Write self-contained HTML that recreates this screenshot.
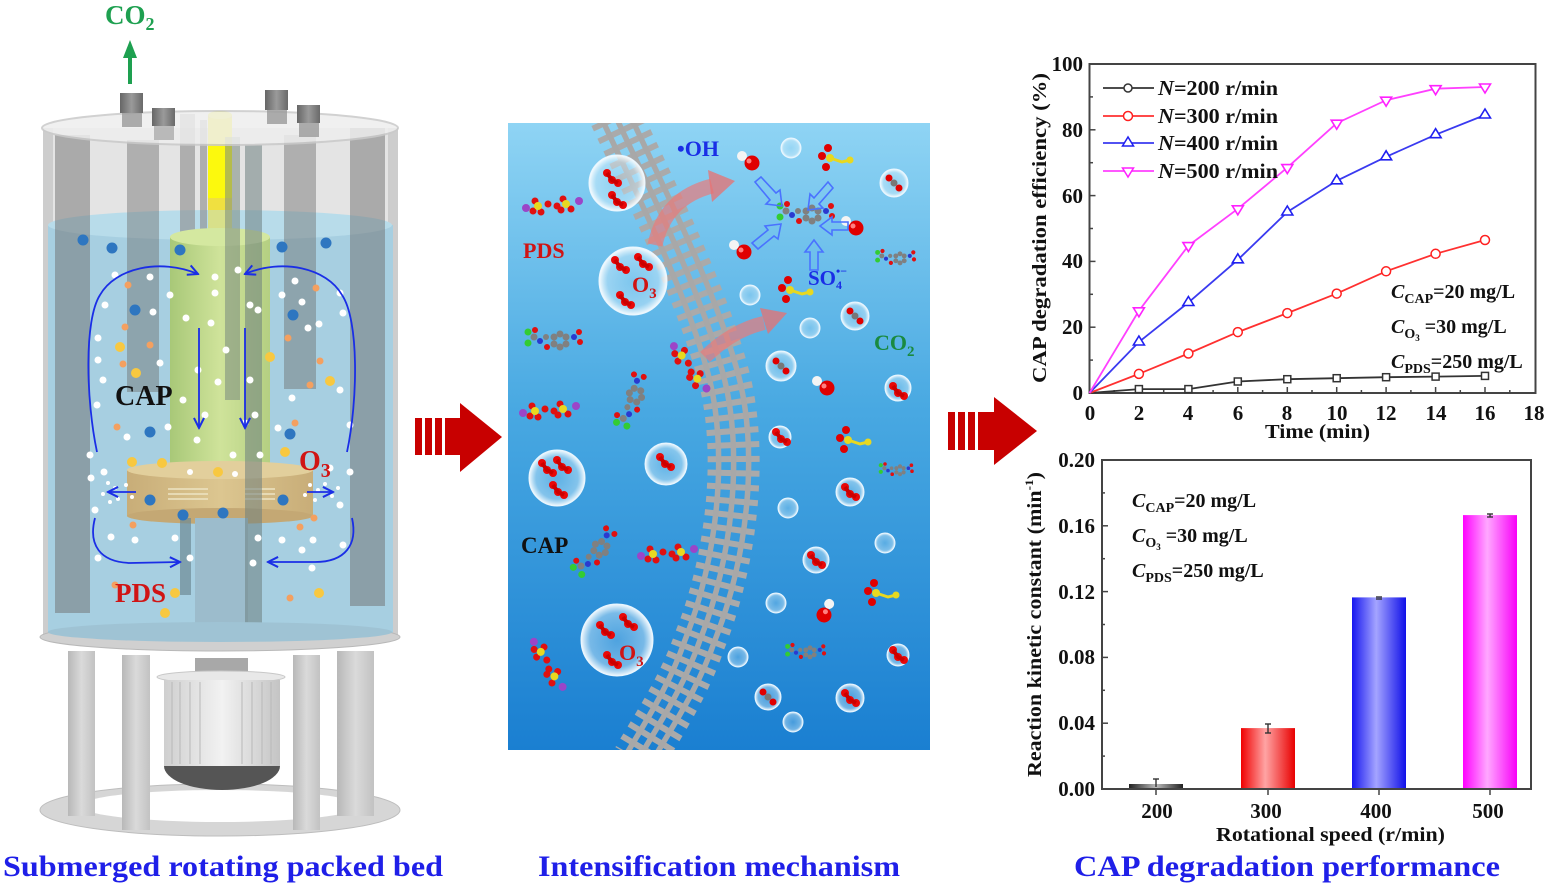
<!DOCTYPE html>
<html><head><meta charset="utf-8"><style>
html,body{margin:0;padding:0;background:#fff;}
svg{display:block;}
.t{font-family:"Liberation Serif",serif;font-weight:bold;}
</style></head><body>
<svg width="1551" height="886" viewBox="0 0 1551 886" xmlns="http://www.w3.org/2000/svg">
<defs>
  <linearGradient id="bg" x1="0" y1="0" x2="0" y2="1">
    <stop offset="0" stop-color="#8fd4f4"/><stop offset="0.45" stop-color="#49a9e2"/><stop offset="1" stop-color="#1a7fd1"/>
  </linearGradient>
  <radialGradient id="bub" cx="0.5" cy="0.5" r="0.5">
    <stop offset="0" stop-color="#bfe6fa" stop-opacity="0.25"/><stop offset="0.75" stop-color="#d8f0fc" stop-opacity="0.45"/><stop offset="1" stop-color="#ffffff" stop-opacity="0.95"/>
  </radialGradient>
  <linearGradient id="gk" x1="0" x2="1"><stop offset="0" stop-color="#222"/><stop offset="0.5" stop-color="#bbb"/><stop offset="1" stop-color="#222"/></linearGradient>
  <linearGradient id="gr" x1="0" x2="1"><stop offset="0" stop-color="#f00000"/><stop offset="0.45" stop-color="#ffa4a4"/><stop offset="1" stop-color="#e80000"/></linearGradient>
  <linearGradient id="gb" x1="0" x2="1"><stop offset="0" stop-color="#1616f0"/><stop offset="0.45" stop-color="#a4a4ff"/><stop offset="1" stop-color="#1010e8"/></linearGradient>
  <linearGradient id="gm" x1="0" x2="1"><stop offset="0" stop-color="#ff00ff"/><stop offset="0.45" stop-color="#ffa8ff"/><stop offset="1" stop-color="#f800f8"/></linearGradient>
  <linearGradient id="rotor" x1="0" x2="1"><stop offset="0" stop-color="#a8c878"/><stop offset="0.5" stop-color="#cfe39a"/><stop offset="1" stop-color="#b4cf82"/></linearGradient>
  <linearGradient id="disc" x1="0" x2="1"><stop offset="0" stop-color="#c8ad78"/><stop offset="0.5" stop-color="#dcc690"/><stop offset="1" stop-color="#c8ad78"/></linearGradient>
  <linearGradient id="fit" x1="0" x2="1"><stop offset="0" stop-color="#666"/><stop offset="0.5" stop-color="#9a9a9a"/><stop offset="1" stop-color="#6a6a6a"/></linearGradient>
  <linearGradient id="motor" x1="0" x2="1"><stop offset="0" stop-color="#cfcfcf"/><stop offset="0.5" stop-color="#f2f2f2"/><stop offset="1" stop-color="#c4c4c4"/></linearGradient>
  <linearGradient id="leg" x1="0" x2="1"><stop offset="0" stop-color="#b8b8b8"/><stop offset="0.5" stop-color="#dadada"/><stop offset="1" stop-color="#c2c2c2"/></linearGradient>
  <marker id="ah" viewBox="0 0 10 10" refX="9" refY="5" markerWidth="7" markerHeight="7" orient="auto-start-reverse">
    <path d="M1,1 L9,5 L1,9" fill="none" stroke="#1a2ee6" stroke-width="1.6"/>
  </marker>
  <clipPath id="mid"><rect x="508" y="123" width="422" height="627"/></clipPath>
  <g id="pds">
    <circle cx="-27" cy="3" r="4" fill="#9b45c8"/>
    <circle cx="-18" cy="-4" r="3.5" fill="#e01010"/><circle cx="-12" cy="7" r="3.5" fill="#e01010"/><circle cx="-20" cy="6" r="3.5" fill="#e01010"/>
    <circle cx="-15" cy="1" r="4" fill="#e8d820"/>
    <circle cx="-5" cy="-1" r="3.5" fill="#e01010"/><circle cx="4" cy="1" r="3.5" fill="#e01010"/>
    <circle cx="10" cy="-6" r="3.5" fill="#e01010"/><circle cx="18" cy="4" r="3.5" fill="#e01010"/><circle cx="8" cy="5" r="3.5" fill="#e01010"/>
    <circle cx="13" cy="-1" r="4" fill="#e8d820"/>
    <circle cx="26" cy="-4" r="4" fill="#9b45c8"/>
  </g>
  <g id="o3">
    <circle cx="-5" cy="-5" r="4" fill="#e80808"/><circle cx="0" cy="2" r="4" fill="#e80808"/><circle cx="6" cy="5" r="4" fill="#e80808"/>
    <path d="M-5,-5 L0,2 L6,5" stroke="#c00" stroke-width="4" fill="none"/>
  </g>
  <g id="cap">
    <circle cx="0" cy="-6" r="3.5" fill="#808080"/><circle cx="6" cy="-3" r="3.5" fill="#808080"/><circle cx="6" cy="4" r="3.5" fill="#808080"/>
    <circle cx="0" cy="7" r="3.5" fill="#808080"/><circle cx="-6" cy="4" r="3.5" fill="#808080"/><circle cx="-6" cy="-3" r="3.5" fill="#808080"/>
    <circle cx="14" cy="-3" r="3" fill="#2a3ad0"/><circle cx="19" cy="-8" r="3" fill="#e01010"/><circle cx="20" cy="2" r="3" fill="#e01010"/>
    <circle cx="-13" cy="7" r="3" fill="#e01010"/><circle cx="-14" cy="-3" r="3" fill="#808080"/><circle cx="-20" cy="1" r="3" fill="#2a3ad0"/>
    <circle cx="-26" cy="-3" r="3.5" fill="#808080"/><circle cx="-32" cy="-8" r="3.5" fill="#33cc33"/><circle cx="-32" cy="3" r="3.5" fill="#33cc33"/><circle cx="-25" cy="-10" r="3" fill="#e01010"/>
  </g>
  <g id="oh"><circle cx="0" cy="0" r="7.5" fill="#e00000"/><circle cx="-3" cy="-2" r="2.5" fill="#ff8080"/><circle cx="-10" cy="-7" r="5" fill="#f4f4f4"/></g>
  <g id="so4">
    <circle cx="0" cy="0" r="4" fill="#e8d820"/><circle cx="-8" cy="-2" r="4" fill="#e00000"/><circle cx="-2" cy="-10" r="4" fill="#e00000"/><circle cx="-4" cy="9" r="4" fill="#e00000"/>
    <path d="M0,0 L12,4 L20,2" stroke="#e8d820" stroke-width="3" fill="none"/><circle cx="20" cy="2" r="3.5" fill="#e8d820"/>
  </g>
  <g id="co2"><circle cx="-5" cy="-5" r="3.5" fill="#e00000"/><circle cx="0" cy="0" r="3.5" fill="#777"/><circle cx="5" cy="5" r="3.5" fill="#e00000"/></g>
</defs>

<!-- ================= LEFT: REACTOR ================= -->
<text class="t" x="105" y="24" font-size="27" fill="#1ea050">CO<tspan font-size="18" dy="6">2</tspan></text>
<line x1="130" y1="84" x2="130" y2="55" stroke="#1ea050" stroke-width="4"/>
<polygon points="123,58 137,58 130,40" fill="#1ea050"/>

<rect x="43" y="128" width="355" height="508" fill="#e4e4e4"/>
<rect x="43" y="128" width="10" height="508" fill="#cdcdcd"/>
<rect x="388" y="128" width="10" height="508" fill="#cdcdcd"/>
<rect x="48" y="225" width="345" height="408" fill="#a7cfe1"/>
<ellipse cx="220" cy="225" rx="172" ry="15" fill="#b8dcea"/>
<rect x="55" y="135" width="35" height="478" fill="#6f6f6f" opacity="0.5"/>
<rect x="127" y="140" width="32" height="252" fill="#6f6f6f" opacity="0.45"/>
<rect x="284" y="135" width="32" height="254" fill="#6f6f6f" opacity="0.45"/>
<rect x="350" y="128" width="35" height="478" fill="#6f6f6f" opacity="0.5"/>
<rect x="180" y="114" width="15" height="126" fill="#8a8a8a" opacity="0.6"/>
<rect x="200" y="120" width="7" height="115" fill="#8a8a8a" opacity="0.6"/>
<rect x="208" y="115" width="24" height="100" fill="#f0e040"/>
<rect x="208" y="118" width="24" height="80" fill="#ffff00" opacity="0.8"/>
<ellipse cx="220" cy="115" rx="12" ry="4" fill="#ffff40"/>
<rect x="208" y="210" width="24" height="32" fill="#d8e08a"/>
<rect x="170" y="237" width="100" height="235" fill="url(#rotor)"/>
<ellipse cx="220" cy="237" rx="50" ry="9" fill="#d4e8a0"/>
<rect x="225" y="137" width="15" height="263" fill="#7a8a80" opacity="0.55"/>
<rect x="127" y="470" width="186" height="46" fill="url(#disc)"/>
<ellipse cx="220" cy="470" rx="93" ry="9" fill="#e2cf9c"/>
<ellipse cx="220" cy="516" rx="93" ry="8" fill="#c4a874"/>
<g fill="#ece2c0" opacity="0.8">
  <rect x="168" y="488" width="40" height="2"/><rect x="168" y="493" width="40" height="2"/><rect x="168" y="498" width="40" height="2"/>
  <rect x="245" y="488" width="30" height="2"/><rect x="245" y="493" width="30" height="2"/><rect x="245" y="498" width="30" height="2"/>
</g>
<rect x="195" y="518" width="53" height="112" fill="#9cbccc"/>
<rect x="180" y="518" width="11" height="77" fill="#6e8a96" opacity="0.7"/>
<rect x="245" y="145" width="17" height="480" fill="#6e8080" opacity="0.55"/>
<ellipse cx="220" cy="128" rx="178" ry="17" fill="#eeeeee" opacity="0.85" stroke="#cacaca" stroke-width="2"/>
<rect x="120" y="93" width="23" height="20" fill="url(#fit)"/>
<rect x="122" y="113" width="20" height="14" fill="#9a9a9a" opacity="0.8"/>
<rect x="152" y="108" width="23" height="18" fill="url(#fit)"/>
<rect x="154" y="126" width="20" height="14" fill="#a4a4a4" opacity="0.7"/>
<rect x="265" y="90" width="23" height="20" fill="url(#fit)"/>
<rect x="267" y="110" width="20" height="14" fill="#9a9a9a" opacity="0.8"/>
<rect x="297" y="105" width="23" height="18" fill="url(#fit)"/>
<rect x="299" y="123" width="20" height="14" fill="#9a9a9a" opacity="0.8"/>
<ellipse cx="220" cy="637" rx="180" ry="14" fill="#d0d0d0" stroke="#b8b8b8"/>
<ellipse cx="220" cy="632" rx="172" ry="10" fill="#9fc3d4"/>
<ellipse cx="220" cy="810" rx="180" ry="26" fill="#d6d6d6" stroke="#bdbdbd"/>
<ellipse cx="220" cy="806" rx="140" ry="16" fill="#ffffff"/>
<rect x="68" y="651" width="27" height="165" fill="url(#leg)"/>
<rect x="122" y="655" width="28" height="175" fill="url(#leg)"/>
<rect x="293" y="655" width="27" height="175" fill="url(#leg)"/>
<rect x="337" y="651" width="37" height="165" fill="url(#leg)"/>
<rect x="195" y="658" width="53" height="16" fill="#a8a8a8"/>
<ellipse cx="221" cy="677" rx="64" ry="6" fill="#e8e8e8" stroke="#c8c8c8"/>
<rect x="164" y="680" width="116" height="86" fill="url(#motor)"/>
<g stroke="#b8b8b8" stroke-width="1">
  <line x1="172" y1="682" x2="172" y2="764"/><line x1="180" y1="682" x2="180" y2="764"/><line x1="190" y1="682" x2="190" y2="764"/>
  <line x1="200" y1="682" x2="200" y2="764"/><line x1="242" y1="682" x2="242" y2="764"/><line x1="252" y1="682" x2="252" y2="764"/>
  <line x1="262" y1="682" x2="262" y2="764"/><line x1="271" y1="682" x2="271" y2="764"/>
</g>
<path d="M164,766 L280,766 A58,24 0 0 1 164,766 Z" fill="#555"/>

<g fill="#2e76c0">
  <circle cx="83" cy="240" r="5.5"/><circle cx="112" cy="248" r="5.5"/><circle cx="180" cy="250" r="5.5"/><circle cx="282" cy="247" r="5.5"/><circle cx="326" cy="243" r="5.5"/>
  <circle cx="135" cy="310" r="5.5"/><circle cx="293" cy="315" r="5.5"/><circle cx="150" cy="432" r="5.5"/><circle cx="290" cy="434" r="5.5"/>
  <circle cx="150" cy="500" r="5.5"/><circle cx="183" cy="515" r="5.5"/><circle cx="223" cy="513" r="5.5"/><circle cx="283" cy="500" r="5.5"/>
</g>
<g fill="#f8c840">
  <circle cx="120" cy="347" r="5"/><circle cx="136" cy="373" r="5"/><circle cx="270" cy="357" r="5"/><circle cx="330" cy="381" r="5"/>
  <circle cx="132" cy="462" r="5"/><circle cx="162" cy="463" r="5"/><circle cx="285" cy="452" r="5"/><circle cx="218" cy="472" r="5"/>
  <circle cx="319" cy="593" r="5"/><circle cx="165" cy="613" r="5"/><circle cx="175" cy="593" r="5"/>
</g>
<g fill="#f4a060">
  <circle cx="128" cy="285" r="3.5"/><circle cx="125" cy="327" r="3.5"/><circle cx="150" cy="345" r="3.5"/><circle cx="123" cy="364" r="3.5"/>
  <circle cx="316" cy="288" r="3.5"/><circle cx="288" cy="338" r="3.5"/><circle cx="320" cy="361" r="3.5"/><circle cx="310" cy="385" r="3.5"/>
  <circle cx="117" cy="427" r="3.5"/><circle cx="295" cy="423" r="3.5"/><circle cx="314" cy="518" r="3.5"/><circle cx="300" cy="527" r="3.5"/>
  <circle cx="133" cy="525" r="3.5"/><circle cx="290" cy="598" r="3.5"/><circle cx="115" cy="585" r="3.5"/>
</g>
<g fill="#ffffff">
  <circle cx="115" cy="275" r="3.5"/><circle cx="150" cy="277" r="3.5"/><circle cx="170" cy="295" r="3.5"/><circle cx="105" cy="305" r="3.5"/>
  <circle cx="153" cy="312" r="3.5"/><circle cx="98" cy="338" r="3.5"/><circle cx="98" cy="360" r="3.5"/><circle cx="160" cy="363" r="3.5"/>
  <circle cx="103" cy="380" r="3.5"/><circle cx="97" cy="405" r="3.5"/><circle cx="127" cy="437" r="3.5"/><circle cx="168" cy="427" r="3.5"/>
  <circle cx="215" cy="277" r="3.5"/><circle cx="238" cy="270" r="3.5"/><circle cx="186" cy="318" r="3.5"/><circle cx="211" cy="323" r="3.5"/>
  <circle cx="215" cy="293" r="3.5"/><circle cx="250" cy="305" r="3.5"/><circle cx="258" cy="310" r="3.5"/><circle cx="198" cy="370" r="3.5"/>
  <circle cx="226" cy="350" r="3.5"/><circle cx="250" cy="380" r="3.5"/><circle cx="218" cy="382" r="3.5"/><circle cx="205" cy="415" r="3.5"/>
  <circle cx="245" cy="423" r="3.5"/><circle cx="183" cy="400" r="3.5"/><circle cx="295" cy="281" r="3.5"/><circle cx="302" cy="302" r="3.5"/>
  <circle cx="282" cy="295" r="3.5"/><circle cx="340" cy="293" r="3.5"/><circle cx="319" cy="324" r="3.5"/><circle cx="343" cy="313" r="3.5"/>
  <circle cx="308" cy="328" r="3.5"/><circle cx="292" cy="398" r="3.5"/><circle cx="340" cy="390" r="3.5"/><circle cx="350" cy="425" r="3.5"/>
  <circle cx="278" cy="428" r="3.5"/><circle cx="255" cy="415" r="3.5"/><circle cx="90" cy="455" r="3.5"/><circle cx="104" cy="472" r="3.5"/>
  <circle cx="91" cy="478" r="3.5"/><circle cx="95" cy="510" r="3.5"/><circle cx="350" cy="472" r="3.5"/><circle cx="340" cy="505" r="3.5"/>
  <circle cx="111" cy="537" r="3.5"/><circle cx="135" cy="540" r="3.5"/><circle cx="175" cy="538" r="3.5"/><circle cx="258" cy="538" r="3.5"/>
  <circle cx="282" cy="540" r="3.5"/><circle cx="313" cy="540" r="3.5"/><circle cx="98" cy="558" r="3.5"/><circle cx="302" cy="550" r="3.5"/>
  <circle cx="343" cy="545" r="3.5"/><circle cx="190" cy="558" r="3.5"/><circle cx="253" cy="563" r="3.5"/><circle cx="312" cy="568" r="3.5"/>
  <circle cx="197" cy="440" r="3.5"/><circle cx="233" cy="455" r="3.5"/><circle cx="190" cy="472" r="3" /><circle cx="235" cy="474" r="3"/>
  <circle cx="260" cy="455" r="3.5"/><circle cx="330" cy="468" r="3.5"/>
  <circle cx="108" cy="483" r="2"/><circle cx="115" cy="488" r="2"/><circle cx="103" cy="494" r="2"/><circle cx="118" cy="499" r="2"/><circle cx="126" cy="485" r="2"/><circle cx="110" cy="502" r="2"/><circle cx="132" cy="497" r="2"/>
  <circle cx="310" cy="485" r="2"/><circle cx="318" cy="490" r="2"/><circle cx="325" cy="484" r="2"/><circle cx="332" cy="496" r="2"/><circle cx="315" cy="500" r="2"/><circle cx="338" cy="488" r="2"/><circle cx="305" cy="495" r="2"/>
</g>
<g stroke="#1a2ee6" stroke-width="1.8" fill="none">
  <path d="M97,452 C86,400 84,320 100,295 C115,268 160,258 198,274" marker-end="url(#ah)"/>
  <path d="M347,452 C358,400 359,320 342,295 C327,268 282,258 245,274" marker-end="url(#ah)"/>
  <path d="M199,328 L199,428" marker-end="url(#ah)"/>
  <path d="M245,328 L245,428" marker-end="url(#ah)"/>
  <path d="M95,518 C88,545 100,562 130,563 L180,562" marker-end="url(#ah)"/>
  <path d="M352,518 C358,545 345,562 315,562 L268,562" marker-end="url(#ah)"/>
  <path d="M136,492 L108,492" marker-end="url(#ah)"/>
  <path d="M307,492 L333,492" marker-end="url(#ah)"/>
</g>
<text class="t" x="115" y="405" font-size="28" fill="#111">CAP</text>
<text class="t" x="299" y="470" font-size="28" fill="#d01414">O<tspan font-size="20" dy="7">3</tspan></text>
<text class="t" x="115" y="602" font-size="27" fill="#d01414">PDS</text>

<!-- ================= RED ARROWS ================= -->
<g fill="#c80000">
  <rect x="415" y="418" width="7" height="37"/><rect x="425" y="418" width="7" height="37"/><rect x="435" y="418" width="7" height="37"/>
  <rect x="445" y="418" width="16" height="37"/>
  <polygon points="460,403 502,437 460,472"/>
  <rect x="948" y="412" width="7" height="38"/><rect x="958" y="412" width="7" height="38"/><rect x="968" y="412" width="7" height="38"/>
  <rect x="978" y="412" width="17" height="38"/>
  <polygon points="994,397 1037,431 994,465"/>
</g>

<!-- ================= MIDDLE PANEL ================= -->
<rect x="508" y="123" width="422" height="627" fill="url(#bg)"/>
<g clip-path="url(#mid)">
  <g fill="none">
    <path d="M615,115 C650,190 700,290 722,370 C745,450 732,560 700,640 C683,690 655,730 638,760" stroke="#aaaaaa" stroke-width="52" stroke-dasharray="6 8"/>
    <path d="M600,115 C635,190 685,290 707,370 C730,450 717,560 685,640 C668,690 640,730 623,760" stroke="#a8a8a8" stroke-width="5.5"/>
    <path d="M615,115 C650,190 700,290 722,370 C745,450 732,560 700,640 C683,690 655,730 638,760" stroke="#a8a8a8" stroke-width="5.5"/>
    <path d="M630,115 C665,190 715,290 737,370 C760,450 747,560 715,640 C698,690 670,730 653,760" stroke="#a8a8a8" stroke-width="5.5"/>
  </g>
  <path d="M655,245 Q665,198 712,186" stroke="#e87a7a" stroke-width="15" fill="none" opacity="0.7"/>
  <polygon points="708,170 735,181 712,202" fill="#e87070" opacity="0.75"/>
  <path d="M705,357 Q733,330 764,323" stroke="#e87a7a" stroke-width="14" fill="none" opacity="0.7"/>
  <polygon points="760,308 787,313 768,334" fill="#e87070" opacity="0.75"/>
  <g fill="url(#bub)" stroke="#e8f6ff" stroke-width="1">
    <circle cx="617" cy="183" r="28"/><circle cx="633" cy="281" r="34"/><circle cx="557" cy="478" r="28"/><circle cx="666" cy="464" r="21"/><circle cx="617" cy="640" r="36"/>
    <circle cx="791" cy="148" r="10"/><circle cx="894" cy="183" r="14"/><circle cx="750" cy="295" r="10"/><circle cx="810" cy="328" r="10"/>
    <circle cx="855" cy="316" r="14"/><circle cx="781" cy="366" r="15"/><circle cx="898" cy="388" r="13"/><circle cx="780" cy="437" r="11"/>
    <circle cx="850" cy="492" r="14"/><circle cx="788" cy="508" r="10"/><circle cx="885" cy="543" r="10"/><circle cx="816" cy="560" r="13"/>
    <circle cx="776" cy="603" r="10"/><circle cx="738" cy="657" r="10"/><circle cx="898" cy="655" r="11"/><circle cx="768" cy="697" r="13"/>
    <circle cx="850" cy="698" r="14"/><circle cx="793" cy="722" r="10"/>
  </g>
  <use href="#o3" x="612" y="178"/><use href="#o3" x="617" y="200"/>
  <use href="#o3" x="620" y="265"/><use href="#o3" x="643" y="262"/><use href="#o3" x="625" y="300"/>
  <use href="#o3" x="547" y="468"/><use href="#o3" x="562" y="465"/><use href="#o3" x="558" y="490"/>
  <use href="#o3" x="665" y="462"/>
  <use href="#o3" x="605" y="630"/><use href="#o3" x="628" y="622"/><use href="#o3" x="612" y="660"/>
  <use href="#o3" x="781" y="437"/><use href="#o3" x="816" y="560"/><use href="#o3" x="898" y="655"/><use href="#o3" x="898" y="391"/><use href="#o3" x="850" y="492"/><use href="#o3" x="850" y="698"/>
  <use href="#co2" x="894" y="183"/><use href="#co2" x="855" y="316"/><use href="#co2" x="781" y="366"/><use href="#co2" x="768" y="697"/>
  <use href="#pds" x="553" y="205"/><use href="#pds" x="550" y="410"/>
  <use href="#pds" transform="translate(548,665) rotate(65)"/><use href="#pds" x="668" y="553"/>
  <use href="#pds" transform="translate(690,368) rotate(60)"/>
  <use href="#cap" x="560" y="340"/><use href="#cap" transform="translate(635,395) rotate(-70)"/>
  <use href="#cap" transform="translate(600,548) rotate(-50)"/><use href="#cap" transform="translate(900,258) scale(0.7)"/>
  <use href="#cap" x="812" y="214"/><use href="#cap" transform="translate(900,470) scale(0.6)"/><use href="#cap" transform="translate(810,652) scale(0.7)"/>
  <use href="#oh" x="752" y="163"/><use href="#oh" x="744" y="252"/><use href="#oh" x="856" y="228"/><use href="#oh" x="827" y="388"/><use href="#oh" transform="translate(824,615) rotate(80)"/>
  <use href="#so4" x="830" y="158"/><use href="#so4" x="790" y="290"/><use href="#so4" x="848" y="440"/><use href="#so4" x="876" y="593"/>
  <g fill="none" stroke="#4a72ff" stroke-width="1.6">
    <path d="M755,182 L770,200 L766,204 L782,206 L780,190 L776,193 L761,177 Z"/>
    <path d="M828,182 L814,198 L810,194 L808,210 L823,208 L819,204 L833,188 Z"/>
    <path d="M848,222 L832,222 L832,217 L820,226 L832,235 L832,230 L848,230 Z"/>
    <path d="M810,270 L810,252 L805,252 L814,240 L823,252 L818,252 L818,270 Z"/>
    <path d="M752,243 L768,230 L765,226 L781,224 L778,239 L774,236 L758,249 Z"/>
  </g>
</g>
<text class="t" x="677" y="156" font-size="22" fill="#1a2ee6">•OH</text>
<text class="t" x="523" y="258" font-size="22" fill="#d01414">PDS</text>
<text class="t" x="632" y="292" font-size="22" fill="#d01414">O<tspan font-size="15" dy="6">3</tspan></text>
<text class="t" x="808" y="285" font-size="21" fill="#1a2ee6">SO<tspan font-size="12" dy="4">4</tspan><tspan font-size="12" dx="-6" dy="-14">•−</tspan></text>
<text class="t" x="874" y="350" font-size="22" fill="#1a8a40">CO<tspan font-size="15" dy="6">2</tspan></text>
<text class="t" x="521" y="553" font-size="23" fill="#111">CAP</text>
<text class="t" x="619" y="660" font-size="22" fill="#d01414">O<tspan font-size="15" dy="6">3</tspan></text>

<!-- ================= CHART 1 ================= -->
<g class="t" font-size="20" fill="#111">
  <rect x="1089.5" y="64" width="446" height="329" fill="none" stroke="#444" stroke-width="2"/>
  <g stroke="#444" stroke-width="1.5">
    <line x1="1138.9" y1="393" x2="1138.9" y2="387"/><line x1="1188.4" y1="393" x2="1188.4" y2="387"/><line x1="1237.8" y1="393" x2="1237.8" y2="387"/>
    <line x1="1287.3" y1="393" x2="1287.3" y2="387"/><line x1="1336.7" y1="393" x2="1336.7" y2="387"/><line x1="1386.1" y1="393" x2="1386.1" y2="387"/>
    <line x1="1435.6" y1="393" x2="1435.6" y2="387"/><line x1="1485" y1="393" x2="1485" y2="387"/>
    <line x1="1114.2" y1="393" x2="1114.2" y2="390"/><line x1="1163.7" y1="393" x2="1163.7" y2="390"/><line x1="1213.1" y1="393" x2="1213.1" y2="390"/>
    <line x1="1262.6" y1="393" x2="1262.6" y2="390"/><line x1="1312" y1="393" x2="1312" y2="390"/><line x1="1361.4" y1="393" x2="1361.4" y2="390"/>
    <line x1="1410.9" y1="393" x2="1410.9" y2="390"/><line x1="1460.3" y1="393" x2="1460.3" y2="390"/><line x1="1509.8" y1="393" x2="1509.8" y2="390"/>
    <line x1="1089.5" y1="327.2" x2="1095.5" y2="327.2"/><line x1="1089.5" y1="261.4" x2="1095.5" y2="261.4"/><line x1="1089.5" y1="195.6" x2="1095.5" y2="195.6"/><line x1="1089.5" y1="129.8" x2="1095.5" y2="129.8"/>
    <line x1="1089.5" y1="360.1" x2="1093" y2="360.1"/><line x1="1089.5" y1="294.3" x2="1093" y2="294.3"/><line x1="1089.5" y1="228.5" x2="1093" y2="228.5"/><line x1="1089.5" y1="162.7" x2="1093" y2="162.7"/><line x1="1089.5" y1="96.9" x2="1093" y2="96.9"/>
  </g>
  <g text-anchor="end" font-size="21">
    <text x="1083" y="400">0</text><text x="1083" y="334">20</text><text x="1083" y="268">40</text><text x="1083" y="203">60</text><text x="1083" y="137">80</text><text x="1083" y="71">100</text>
  </g>
  <g text-anchor="middle" font-size="21">
    <text x="1090" y="420">0</text><text x="1139" y="420">2</text><text x="1188" y="420">4</text><text x="1238" y="420">6</text><text x="1287" y="420">8</text>
    <text x="1337" y="420">10</text><text x="1386" y="420">12</text><text x="1436" y="420">14</text><text x="1485" y="420">16</text><text x="1534" y="420">18</text>
  </g>
  <text x="1265" y="438" textLength="105" lengthAdjust="spacingAndGlyphs">Time (min)</text>
  <text transform="translate(1046,383) rotate(-90)" textLength="310" lengthAdjust="spacingAndGlyphs">CAP degradation efficiency (%)</text>

  <g fill="none" stroke-width="1.8">
    <polyline stroke="#333" points="1089.5,393 1138.9,389.1 1188.4,389.1 1237.8,381.5 1287.3,379.2 1336.7,378.2 1386.1,377.2 1435.6,376.6 1485,375.9"/>
    <polyline stroke="#ff3030" points="1089.5,393 1138.9,373.9 1188.4,353.5 1237.8,332.1 1287.3,313.1 1336.7,293.6 1386.1,271.3 1435.6,253.8 1485,240"/>
    <polyline stroke="#3a3af0" points="1089.5,393 1138.9,342 1188.4,302.5 1237.8,259.8 1287.3,212 1336.7,180.8 1386.1,156.8 1435.6,134.7 1485,115"/>
    <polyline stroke="#ff40ff" points="1089.5,393 1138.9,310.8 1188.4,245.6 1237.8,208.8 1287.3,167.6 1336.7,123.2 1386.1,100.2 1435.6,88.7 1485,87"/>
  </g>
  <g fill="#fff" stroke="#333" stroke-width="1.5">
    <rect x="1135.4" y="385.6" width="7" height="7"/><rect x="1184.9" y="385.6" width="7" height="7"/><rect x="1234.3" y="378" width="7" height="7"/>
    <rect x="1283.8" y="375.7" width="7" height="7"/><rect x="1333.2" y="374.7" width="7" height="7"/><rect x="1382.6" y="373.7" width="7" height="7"/>
    <rect x="1432.1" y="373.1" width="7" height="7"/><rect x="1481.5" y="372.4" width="7" height="7"/>
  </g>
  <g fill="#fff" stroke="#ff2020" stroke-width="1.5">
    <circle cx="1138.9" cy="373.9" r="4.5"/><circle cx="1188.4" cy="353.5" r="4.5"/><circle cx="1237.8" cy="332.1" r="4.5"/><circle cx="1287.3" cy="313.1" r="4.5"/>
    <circle cx="1336.7" cy="293.6" r="4.5"/><circle cx="1386.1" cy="271.3" r="4.5"/><circle cx="1435.6" cy="253.8" r="4.5"/><circle cx="1485" cy="240" r="4.5"/>
  </g>
  <g fill="#fff" stroke="#2020f0" stroke-width="1.6">
    <polygon points="1138.9,336 1133.4,345 1144.4,345"/><polygon points="1188.4,296.5 1182.9,305.5 1193.9,305.5"/><polygon points="1237.8,253.8 1232.3,262.8 1243.3,262.8"/>
    <polygon points="1287.3,206 1281.8,215 1292.8,215"/><polygon points="1336.7,174.8 1331.2,183.8 1342.2,183.8"/><polygon points="1386.1,150.8 1380.6,159.8 1391.6,159.8"/>
    <polygon points="1435.6,128.7 1430.1,137.7 1441.1,137.7"/><polygon points="1485,109 1479.5,118 1490.5,118"/>
  </g>
  <g fill="#fff" stroke="#ff20ff" stroke-width="1.6">
    <polygon points="1138.9,316.8 1133.4,307.8 1144.4,307.8"/><polygon points="1188.4,251.6 1182.9,242.6 1193.9,242.6"/><polygon points="1237.8,214.8 1232.3,205.8 1243.3,205.8"/>
    <polygon points="1287.3,173.6 1281.8,164.6 1292.8,164.6"/><polygon points="1336.7,129.2 1331.2,120.2 1342.2,120.2"/><polygon points="1386.1,106.2 1380.6,97.2 1391.6,97.2"/>
    <polygon points="1435.6,94.7 1430.1,85.7 1441.1,85.7"/><polygon points="1485,93 1479.5,84 1490.5,84"/>
  </g>
  <g stroke-width="1.8">
    <line x1="1103" y1="88" x2="1154" y2="88" stroke="#333"/><circle cx="1128" cy="88" r="4" fill="#fff" stroke="#333" stroke-width="1.5"/>
    <line x1="1103" y1="116" x2="1154" y2="116" stroke="#ff3030"/><circle cx="1128" cy="116" r="4.5" fill="#fff" stroke="#ff2020" stroke-width="1.5"/>
    <line x1="1103" y1="143" x2="1154" y2="143" stroke="#3a3af0"/><polygon points="1128,137 1122.5,146 1133.5,146" fill="#fff" stroke="#2020f0" stroke-width="1.5"/>
    <line x1="1103" y1="171" x2="1154" y2="171" stroke="#ff40ff"/><polygon points="1128,177 1122.5,168 1133.5,168" fill="#fff" stroke="#ff20ff" stroke-width="1.5"/>
  </g>
  <g font-size="21">
    <text x="1158" y="95" textLength="120" lengthAdjust="spacingAndGlyphs"><tspan font-style="italic">N</tspan>=200 r/min</text>
    <text x="1158" y="123" textLength="120" lengthAdjust="spacingAndGlyphs"><tspan font-style="italic">N</tspan>=300 r/min</text>
    <text x="1158" y="150" textLength="120" lengthAdjust="spacingAndGlyphs"><tspan font-style="italic">N</tspan>=400 r/min</text>
    <text x="1158" y="178" textLength="120" lengthAdjust="spacingAndGlyphs"><tspan font-style="italic">N</tspan>=500 r/min</text>
  </g>
  <g font-size="20">
    <text x="1391" y="298"><tspan font-style="italic">C</tspan><tspan font-size="14" dy="5">CAP</tspan><tspan dy="-5">=20 mg/L</tspan></text>
    <text x="1391" y="333"><tspan font-style="italic">C</tspan><tspan font-size="14" dy="5">O</tspan><tspan font-size="9" dy="3">3</tspan><tspan dy="-8"> =30 mg/L</tspan></text>
    <text x="1391" y="368"><tspan font-style="italic">C</tspan><tspan font-size="14" dy="5">PDS</tspan><tspan dy="-5">=250 mg/L</tspan></text>
  </g>
</g>

<!-- ================= CHART 2 ================= -->
<g class="t" font-size="20" fill="#111">
  <rect x="1129" y="784" width="54" height="5" fill="url(#gk)"/>
  <rect x="1241" y="728.1" width="54" height="60.9" fill="url(#gr)"/>
  <rect x="1352" y="597.4" width="54" height="191.6" fill="url(#gb)"/>
  <rect x="1463" y="515.1" width="54" height="273.9" fill="url(#gm)"/>
  <g stroke="#333" stroke-width="1.4">
    <line x1="1156" y1="779" x2="1156" y2="787"/><line x1="1153" y1="779" x2="1159" y2="779"/>
    <line x1="1268" y1="724" x2="1268" y2="733"/><line x1="1265" y1="724" x2="1271" y2="724"/><line x1="1265" y1="733" x2="1271" y2="733"/>
    <line x1="1376" y1="597" x2="1382" y2="597"/><line x1="1376" y1="599" x2="1382" y2="599"/>
    <line x1="1487" y1="514" x2="1493" y2="514"/><line x1="1487" y1="517" x2="1493" y2="517"/><line x1="1490" y1="514" x2="1490" y2="517"/>
  </g>
  <rect x="1102" y="460" width="429" height="329" fill="none" stroke="#444" stroke-width="2"/>
  <g stroke="#444" stroke-width="1.5">
    <line x1="1102" y1="723.2" x2="1108" y2="723.2"/><line x1="1102" y1="657.4" x2="1108" y2="657.4"/><line x1="1102" y1="591.6" x2="1108" y2="591.6"/><line x1="1102" y1="525.8" x2="1108" y2="525.8"/>
    <line x1="1102" y1="756.1" x2="1105" y2="756.1"/><line x1="1102" y1="690.3" x2="1105" y2="690.3"/><line x1="1102" y1="624.5" x2="1105" y2="624.5"/><line x1="1102" y1="558.7" x2="1105" y2="558.7"/><line x1="1102" y1="492.9" x2="1105" y2="492.9"/>
    <line x1="1156" y1="789" x2="1156" y2="795"/><line x1="1268" y1="789" x2="1268" y2="795"/><line x1="1379" y1="789" x2="1379" y2="795"/><line x1="1490" y1="789" x2="1490" y2="795"/>
  </g>
  <g text-anchor="end" font-size="21">
    <text x="1095" y="796">0.00</text><text x="1095" y="730">0.04</text><text x="1095" y="664">0.08</text><text x="1095" y="599">0.12</text><text x="1095" y="533">0.16</text><text x="1095" y="467">0.20</text>
  </g>
  <g text-anchor="middle" font-size="21">
    <text x="1157" y="818">200</text><text x="1266" y="818">300</text><text x="1376" y="818">400</text><text x="1488" y="818">500</text>
  </g>
  <text x="1216" y="841" textLength="229" lengthAdjust="spacingAndGlyphs">Rotational speed (r/min)</text>
  <text transform="translate(1041,777) rotate(-90)" textLength="305" lengthAdjust="spacingAndGlyphs">Reaction kinetic constant (min<tspan font-size="12" dy="-8">-1</tspan><tspan dy="8">)</tspan></text>
  <g font-size="20">
    <text x="1132" y="507"><tspan font-style="italic">C</tspan><tspan font-size="14" dy="5">CAP</tspan><tspan dy="-5">=20 mg/L</tspan></text>
    <text x="1132" y="542"><tspan font-style="italic">C</tspan><tspan font-size="14" dy="5">O</tspan><tspan font-size="9" dy="3">3</tspan><tspan dy="-8"> =30 mg/L</tspan></text>
    <text x="1132" y="577"><tspan font-style="italic">C</tspan><tspan font-size="14" dy="5">PDS</tspan><tspan dy="-5">=250 mg/L</tspan></text>
  </g>
</g>

<!-- ================= TITLES ================= -->
<g class="t" font-size="30" fill="#1f1fe8">
  <text x="3" y="876" textLength="440" lengthAdjust="spacingAndGlyphs">Submerged rotating packed bed</text>
  <text x="538" y="876" textLength="362" lengthAdjust="spacingAndGlyphs">Intensification mechanism</text>
  <text x="1074" y="876" textLength="426" lengthAdjust="spacingAndGlyphs">CAP degradation performance</text>
</g>
</svg>
</body></html>
